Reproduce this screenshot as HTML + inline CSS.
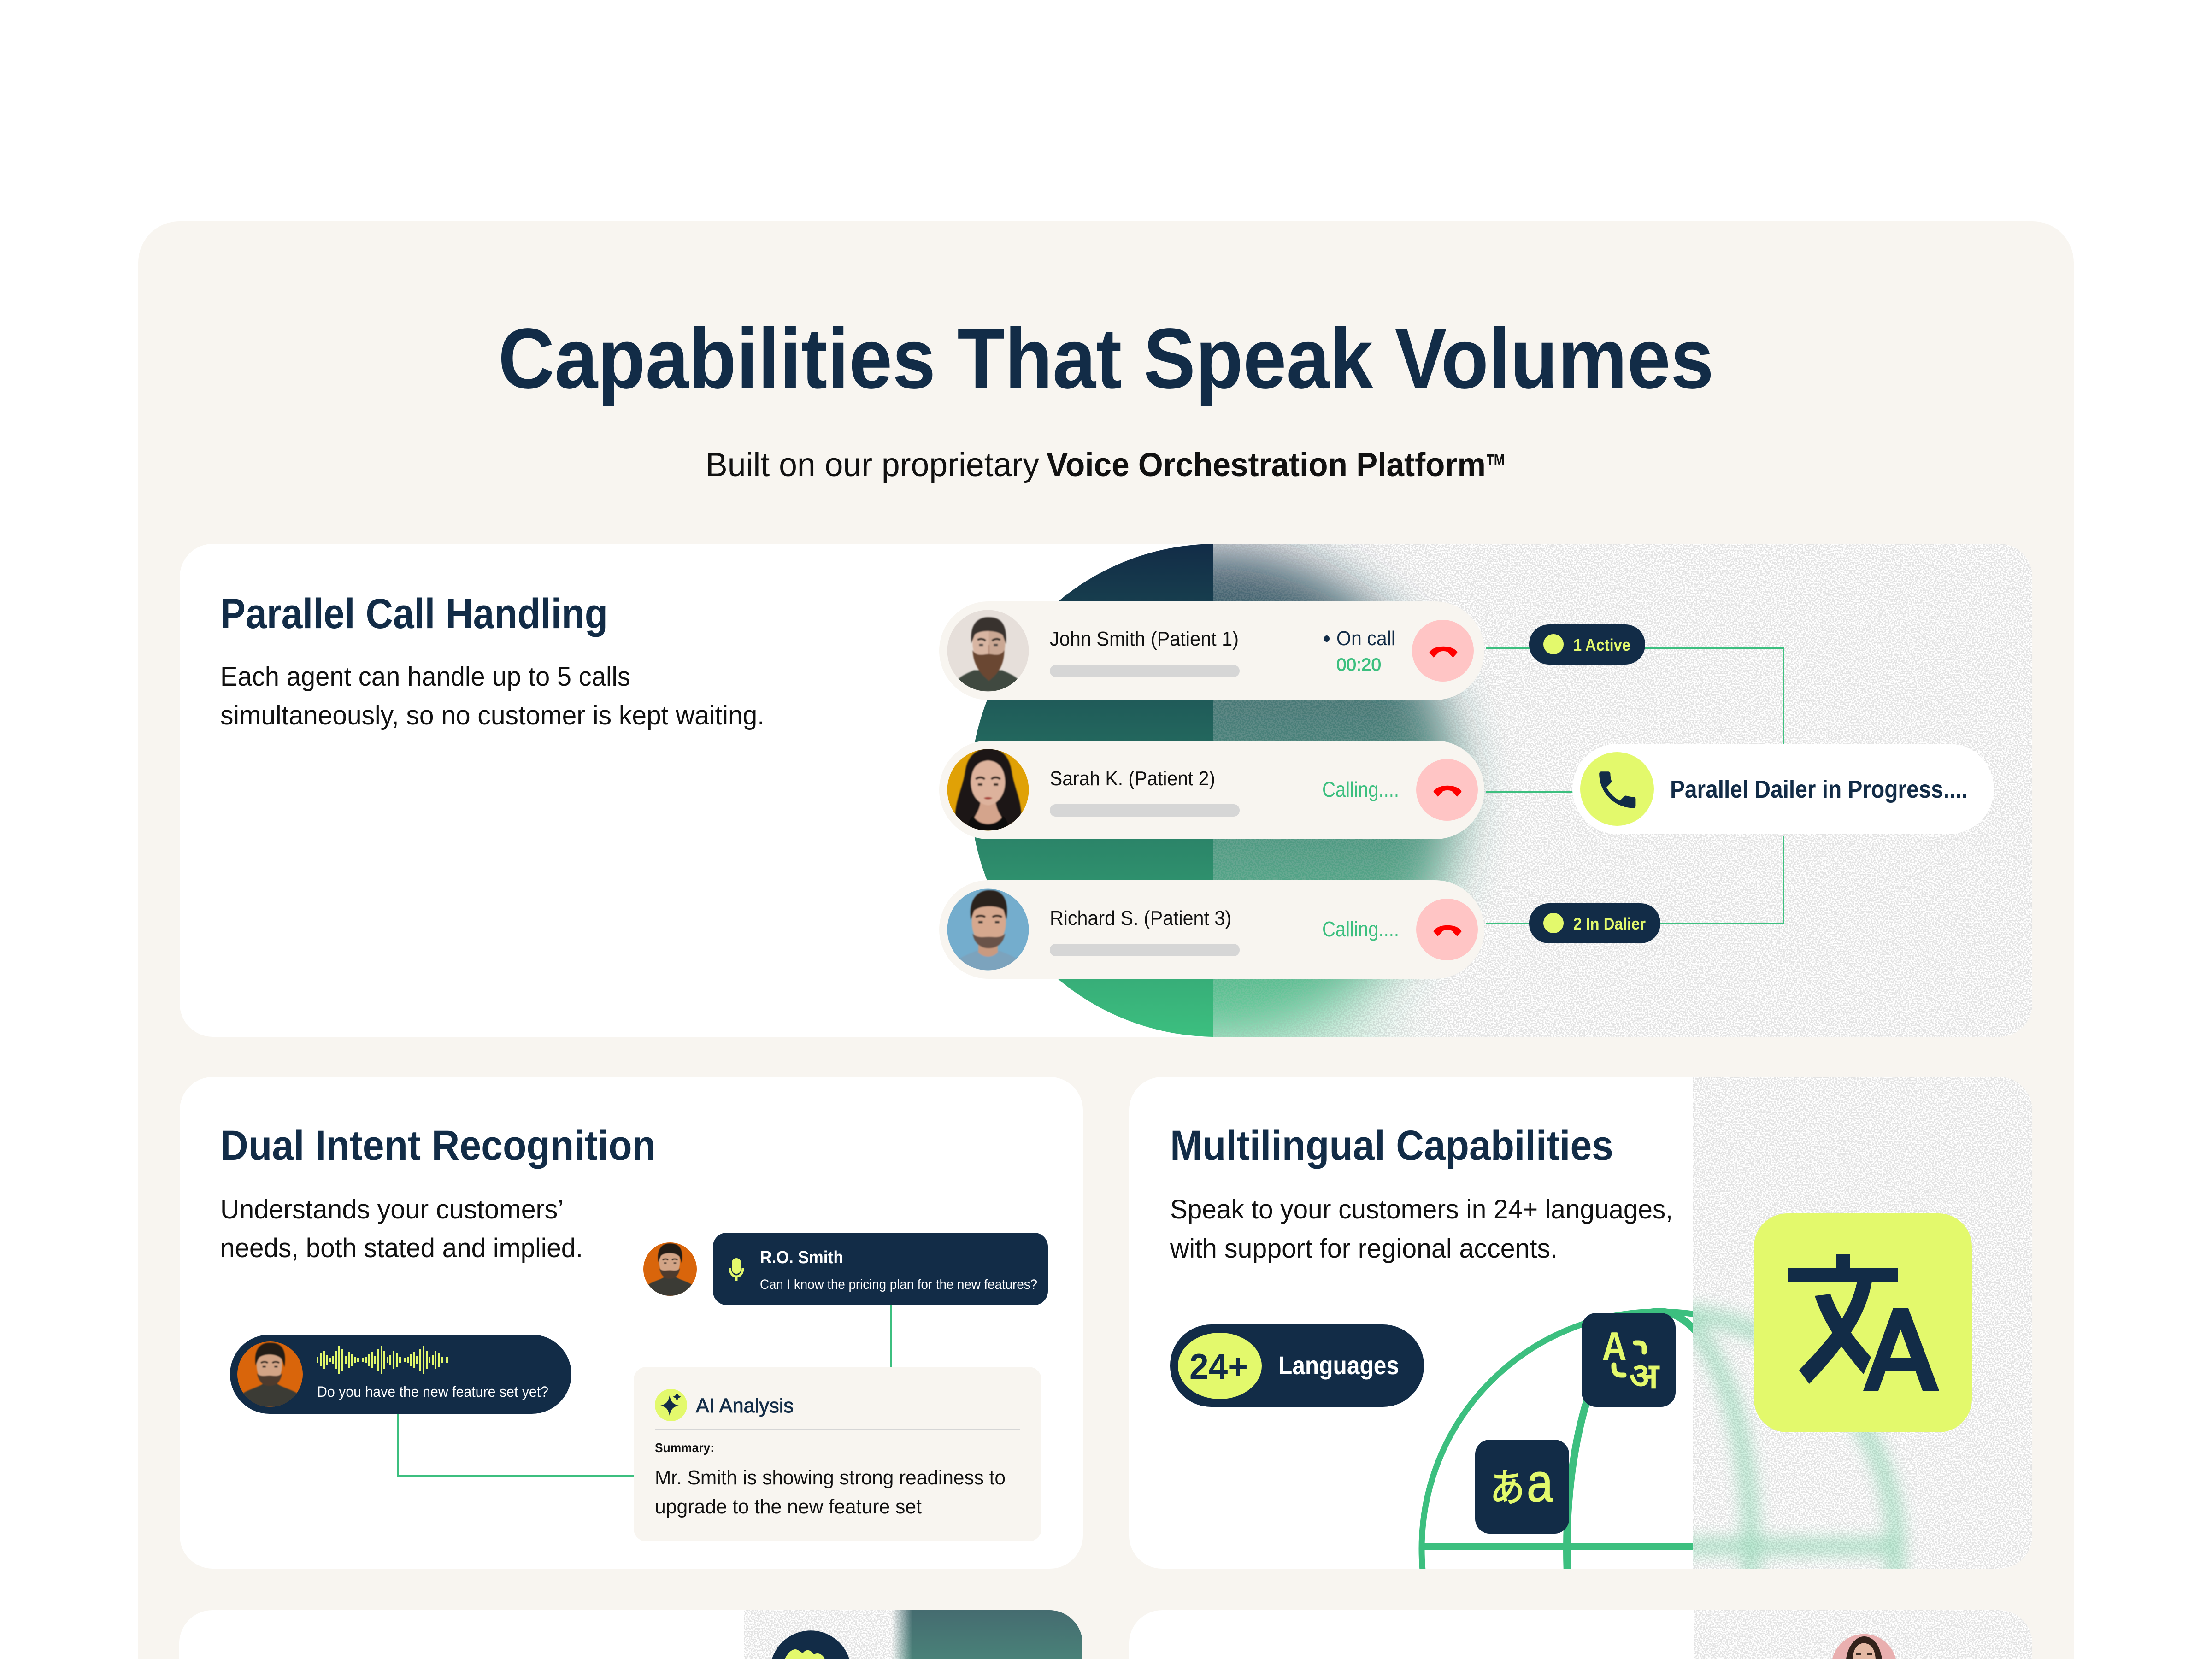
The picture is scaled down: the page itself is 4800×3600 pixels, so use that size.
<!DOCTYPE html>
<html lang="en"><head><meta charset="utf-8"><title>Capabilities That Speak Volumes</title>
<style>
html,body{margin:0;padding:0;background:#fff;width:4800px;height:3600px;overflow:hidden}
svg{display:block}
text{font-family:"Liberation Sans","Noto Sans CJK JP","DejaVu Sans",sans-serif}
.b{font-weight:700}
</style></head><body>
<svg xmlns="http://www.w3.org/2000/svg" width="4800" height="3600" viewBox="0 0 4800 3600">
<defs>
<filter id="n" x="0" y="0" width="100%" height="100%" color-interpolation-filters="sRGB">
<feTurbulence type="fractalNoise" baseFrequency="0.3" numOctaves="1" seed="7"/>
<feColorMatrix type="matrix" values="0 0 0 0 .89 0 0 0 0 .89 0 0 0 0 .89 12 0 0 0 -5.5"/>
</filter>
<filter id="bl" x="-40%" y="-40%" width="180%" height="180%"><feGaussianBlur stdDeviation="58"/></filter>
<filter id="bl2" x="-40%" y="-80%" width="180%" height="260%"><feGaussianBlur stdDeviation="70"/></filter>
<filter id="bs" x="-20%" y="-20%" width="140%" height="140%"><feGaussianBlur stdDeviation="18"/></filter>
<filter id="f" x="-20%" y="-20%" width="140%" height="140%"><feGaussianBlur stdDeviation="1.6"/></filter>
<linearGradient id="g1" gradientUnits="userSpaceOnUse" x1="0" y1="1180" x2="0" y2="2250"><stop offset="0" stop-color="#122C47"/><stop offset="1" stop-color="#3CBF7F"/></linearGradient>
<linearGradient id="g2" gradientUnits="userSpaceOnUse" x1="0" y1="3494" x2="0" y2="3620"><stop offset="0" stop-color="#456c70"/><stop offset="1" stop-color="#4a857a"/></linearGradient>
<linearGradient id="g3" gradientUnits="userSpaceOnUse" x1="1935" y1="0" x2="1980" y2="0"><stop offset="0" stop-color="#000"/><stop offset="1" stop-color="#fff"/></linearGradient>
<mask id="m3" maskUnits="userSpaceOnUse" x="1900" y="3494" width="449" height="106"><rect x="1900" y="3494" width="449" height="106" fill="url(#g3)"/></mask>
<clipPath id="c1"><rect x="390" y="1180" width="4020" height="1070" rx="72"/></clipPath>
<clipPath id="c2"><rect x="2450" y="2337" width="1960" height="1067" rx="72"/></clipPath>
<clipPath id="c3"><path d="M389 3600V3566A72 72 0 0 1 461 3494H2277A72 72 0 0 1 2349 3566V3600Z"/></clipPath>
<clipPath id="c4"><path d="M2450 3600V3566A72 72 0 0 1 2522 3494H4338A72 72 0 0 1 4410 3566V3600Z"/></clipPath>
<clipPath id="leftC"><rect x="2000" y="1180" width="632" height="1070"/></clipPath>
<clipPath id="whiteL"><rect x="2450" y="2337" width="1223" height="1067"/></clipPath>
<clipPath id="noiseR"><rect x="3673" y="2337" width="740" height="1067"/></clipPath>
<clipPath id="av"><circle cx="0" cy="0" r="100"/></clipPath>
<g id="john"><g clip-path="url(#av)"><rect x="-100" y="-100" width="200" height="200" fill="#e6dfda"/><g filter="url(#f)"><path d="M-88 100 C-85 70 -62 60 -35 48 L35 48 C62 60 85 70 88 100Z" fill="#414a40"/><ellipse cx="2" cy="-18" rx="40" ry="52" fill="#d8b5a2"/><path d="M2 -70 C30 -70 42 -50 42 -15 C42 15 30 30 2 34Z" fill="#c09a86" opacity=".55"/><path d="M-41 -18 C-46 -70 -20 -84 4 -82 C30 -82 48 -66 44 -16 L36 -38 C22 -50 -16 -52 -32 -40Z" fill="#37322f"/><path d="M-38 -2 C-36 38 -16 58 2 74 C22 58 40 38 40 -2 C30 16 14 8 2 8 C-10 8 -28 16 -38 -2Z" fill="#6a4630"/><path d="M-26 -26 C-20 -30 -12 -30 -6 -24 M10 -24 C16 -30 24 -30 30 -26" fill="none" stroke="#2c2522" stroke-width="5"/><path d="M-22 -14 h10 M14 -14 h10" stroke="#3a3a3a" stroke-width="5"/><path d="M2 -14 V8" stroke="#b9917e" stroke-width="4"/></g></g></g>
<g id="sarah"><g clip-path="url(#av)"><rect x="-100" y="-100" width="200" height="200" fill="#e0a106"/><g filter="url(#f)"><path d="M-78 100 C-90 40 -62 0 -56 -45 C-50 -90 -20 -102 2 -102 C30 -102 52 -85 58 -45 C64 0 92 40 78 100Z" fill="#1e1412"/><path d="M-46 100 C-36 62 -20 56 -18 25 L18 25 C20 56 36 62 46 100Z" fill="#d4a48c"/><path d="M-52 100 C-48 76 -42 66 -36 64 C-20 90 20 90 36 64 C42 66 48 76 52 100Z" fill="#0b0807"/><path d="M-42 -20 C-40 -55 -25 -70 0 -72 C25 -70 40 -55 42 -20 C42 14 22 36 0 38 C-22 36 -42 14 -42 -20Z" fill="#ddb29c"/><path d="M-30 -26 C-24 -32 -14 -32 -8 -26 M8 -26 C14 -32 24 -32 30 -26" fill="none" stroke="#2a1c18" stroke-width="5"/><path d="M-25 -13 h11 M14 -13 h11" stroke="#3a2a22" stroke-width="6"/><path d="M-11 20 q11 -5 22 0 q-11 7 -22 0z" fill="#a8423a"/></g></g></g>
<g id="richard"><g clip-path="url(#av)"><rect x="-100" y="-100" width="200" height="200" fill="#74adcd"/><g filter="url(#f)"><path d="M-88 100 C-85 72 -60 66 -28 52 L28 52 C60 66 85 72 88 100Z" fill="#7ba3bd"/><path d="M-24 20 H24 V56 C10 70 -10 70 -24 56Z" fill="#c99a80"/><ellipse cx="2" cy="-18" rx="42" ry="58" fill="#d6a88e"/><path d="M-42 -24 C-50 -80 -18 -98 6 -96 C36 -96 52 -74 45 -24 L38 -48 C20 -60 -18 -60 -34 -46Z" fill="#2c211c"/><path d="M-38 10 C-32 40 -12 46 2 46 C16 46 36 40 42 10 C30 22 14 18 2 18 C-10 18 -26 22 -38 10Z" fill="#6a5248"/><path d="M-30 -30 C-24 -35 -12 -35 -7 -30 M11 -30 C16 -35 28 -35 34 -30" fill="none" stroke="#2c211c" stroke-width="5"/><path d="M-24 -18 h11 M17 -18 h11" stroke="#33302e" stroke-width="5.5"/></g></g></g>
<g id="orange"><g clip-path="url(#av)"><rect x="-100" y="-100" width="200" height="200" fill="#d9650b"/><g filter="url(#f)"><path d="M-85 100 L-82 58 C-60 44 -35 40 -20 28 L20 28 C35 40 60 44 82 58 L85 100Z" fill="#3a3b36"/><ellipse cx="-2" cy="-28" rx="39" ry="58" fill="#d2a486"/><path d="M-44 -26 C-52 -84 -22 -98 2 -96 C34 -96 52 -76 44 -22 L36 -46 C20 -64 -18 -64 -34 -50Z" fill="#231a16"/><path d="M-40 -4 C-34 30 -14 36 -2 36 C12 36 32 30 37 -4 C26 10 12 4 -2 4 C-16 4 -30 10 -40 -4Z" fill="#4e3a2e"/><path d="M-28 -34 C-22 -39 -12 -39 -7 -34 M7 -34 C12 -39 22 -39 28 -34" fill="none" stroke="#231a16" stroke-width="5"/><path d="M-23 -23 h10 M13 -23 h10" stroke="#2e2723" stroke-width="5"/></g></g></g>
<g id="hang"><path d="M-30 2 C-22 -15 22 -15 30 2 L21 12 L12 3 C11 -3 -11 -3 -12 3 L-21 12Z" fill="#FF0000" stroke="#FF0000" stroke-width="1" stroke-linejoin="round"/></g>
</defs>

<rect width="4800" height="3600" fill="#fff"/>
<path d="M300 3600V570A90 90 0 0 1 390 480H4410A90 90 0 0 1 4500 570V3600Z" fill="#F8F5F0"/>

<text x="1081" y="842" font-size="186" class="b" fill="#122C47" textLength="2638" lengthAdjust="spacingAndGlyphs">Capabilities That Speak Volumes</text>
<text x="1531" y="1033" font-size="72" fill="#111" textLength="724" lengthAdjust="spacingAndGlyphs">Built on our proprietary</text>
<text x="2271" y="1033" font-size="72" class="b" fill="#111" textLength="953" lengthAdjust="spacingAndGlyphs">Voice Orchestration Platform</text>
<text x="3224" y="1038" font-size="76" class="b" fill="#111" textLength="45" lengthAdjust="spacingAndGlyphs">™</text>

<!-- Card 1 -->
<g clip-path="url(#c1)">
<rect x="390" y="1180" width="4020" height="1070" fill="#fff"/>
<rect x="2632" y="1180" width="1780" height="1070" filter="url(#n)"/>
<circle cx="2640" cy="1715" r="535" fill="url(#g1)" clip-path="url(#leftC)"/>
<svg x="2632" y="1180" width="1780" height="1070" viewBox="2632 1180 1780 1070"><circle cx="2632" cy="1725" r="530" fill="url(#g1)" opacity=".82" filter="url(#bl)"/><ellipse cx="2740" cy="2260" rx="300" ry="90" fill="#3CBF7F" opacity=".22" filter="url(#bl2)"/><rect x="2632" y="1180" width="700" height="1070" filter="url(#n)" opacity=".16"/></svg>
</g>

<text x="478" y="1363" font-size="92" class="b" fill="#122C47" textLength="841" lengthAdjust="spacingAndGlyphs">Parallel Call Handling</text>
<text x="478" y="1488" font-size="58" fill="#111" textLength="890" lengthAdjust="spacingAndGlyphs">Each agent can handle up to 5 calls</text>
<text x="478" y="1572" font-size="58" fill="#111" textLength="1181" lengthAdjust="spacingAndGlyphs">simultaneously, so no customer is kept waiting.</text>

<!-- connectors card 1 -->
<g fill="none" stroke="#3CBF7F" stroke-width="4">
<path d="M3225 1406H3320M3568 1406H3870V1616"/>
<path d="M3225 1719H3420"/>
<path d="M3870 1815V2004H3600M3320 2004H3225"/>
</g>

<!-- pills -->
<rect x="2038" y="1305" width="1183" height="214" rx="107" fill="#F8F5F0"/>
<rect x="2038" y="1607" width="1183" height="214" rx="107" fill="#F8F5F0"/>
<rect x="2038" y="1910" width="1183" height="214" rx="107" fill="#F8F5F0"/>
<use href="#john" transform="translate(2144 1412) scale(.885)"/>
<use href="#sarah" transform="translate(2144 1714) scale(.885)"/>
<use href="#richard" transform="translate(2144 2017) scale(.885)"/>

<text x="2278" y="1401" font-size="44" fill="#111" textLength="410" lengthAdjust="spacingAndGlyphs">John Smith (Patient 1)</text>
<text x="2278" y="1704" font-size="44" fill="#111" textLength="359" lengthAdjust="spacingAndGlyphs">Sarah K. (Patient 2)</text>
<text x="2278" y="2007" font-size="44" fill="#111" textLength="394" lengthAdjust="spacingAndGlyphs">Richard S. (Patient 3)</text>
<rect x="2278" y="1443" width="412" height="26" rx="13" fill="#D6D6D6"/>
<rect x="2278" y="1745" width="412" height="27" rx="13" fill="#D6D6D6"/>
<rect x="2278" y="2048" width="412" height="27" rx="13" fill="#D6D6D6"/>

<ellipse cx="2879" cy="1386" rx="6" ry="7" fill="#122C47"/>
<text x="2900" y="1400" font-size="44" fill="#122C47" textLength="128" lengthAdjust="spacingAndGlyphs">On call</text>
<text x="2900" y="1455" font-size="38" fill="#3CBF7F" stroke="#3CBF7F" stroke-width="1" textLength="97" lengthAdjust="spacingAndGlyphs">00:20</text>
<text x="2869" y="1729" font-size="46" fill="#3CBF7F" textLength="167" lengthAdjust="spacingAndGlyphs">Calling....</text>
<text x="2869" y="2032" font-size="46" fill="#3CBF7F" textLength="167" lengthAdjust="spacingAndGlyphs">Calling....</text>

<circle cx="3131" cy="1412" r="67" fill="#FFC5C5"/>
<circle cx="3140" cy="1714" r="67" fill="#FFC5C5"/>
<circle cx="3140" cy="2017" r="67" fill="#FFC5C5"/>
<use href="#hang" transform="translate(3132 1414)"/>
<use href="#hang" transform="translate(3141 1716)"/>
<use href="#hang" transform="translate(3141 2019)"/>

<rect x="3318" y="1355" width="252" height="87" rx="43" fill="#122C47"/>
<circle cx="3371" cy="1398" r="22" fill="#E3F96C"/>
<text x="3414" y="1412" font-size="36" class="b" fill="#E3F96C" textLength="124" lengthAdjust="spacingAndGlyphs">1 Active</text>
<rect x="3318" y="1960" width="285" height="87" rx="43" fill="#122C47"/>
<circle cx="3371" cy="2003" r="22" fill="#E3F96C"/>
<text x="3414" y="2017" font-size="36" class="b" fill="#E3F96C" textLength="157" lengthAdjust="spacingAndGlyphs">2 In Dalier</text>

<rect x="3412" y="1614" width="915" height="196" rx="98" fill="#fff"/>
<circle cx="3509" cy="1712" r="80" fill="#E3F96C"/>
<path transform="translate(3457 1661) scale(4.4)" fill="#122C47" d="M6.62 10.79c1.44 2.83 3.76 5.14 6.59 6.59l2.2-2.2c.27-.27.67-.36 1.02-.24 1.12.37 2.33.57 3.57.57.55 0 1 .45 1 1V20c0 .55-.45 1-1 1-9.39 0-17-7.61-17-17 0-.55.45-1 1-1h3.5c.55 0 1 .45 1 1 0 1.25.2 2.45.57 3.57.11.35.03.74-.25 1.02l-2.2 2.2z"/>
<text x="3624" y="1731" font-size="54" class="b" fill="#122C47" textLength="646" lengthAdjust="spacingAndGlyphs">Parallel Dailer in Progress....</text>

<!-- Card 2 Dual intent -->
<rect x="390" y="2337" width="1960" height="1067" rx="72" fill="#fff"/>
<text x="478" y="2517" font-size="92" class="b" fill="#122C47" textLength="945" lengthAdjust="spacingAndGlyphs">Dual Intent Recognition</text>
<text x="478" y="2644" font-size="58" fill="#111" textLength="745" lengthAdjust="spacingAndGlyphs">Understands your customers’</text>
<text x="478" y="2728" font-size="58" fill="#111" textLength="787" lengthAdjust="spacingAndGlyphs">needs, both stated and implied.</text>

<use href="#orange" transform="translate(1454 2754) scale(.58)"/>
<rect x="1547" y="2675" width="727" height="157" rx="30" fill="#122C47"/>
<rect x="1588" y="2730" width="20" height="34" rx="10" fill="#E3F96C"/>
<path d="M1584 2752 C1584 2776 1612 2776 1612 2752 M1598 2770V2780" fill="none" stroke="#E3F96C" stroke-width="5"/>
<text x="1649" y="2741" font-size="38" class="b" fill="#fff" textLength="181" lengthAdjust="spacingAndGlyphs">R.O. Smith</text>
<text x="1649" y="2797" font-size="30" fill="#fff" textLength="602" lengthAdjust="spacingAndGlyphs">Can I know the pricing plan for the new features?</text>

<path d="M1934 2832V2968" stroke="#3CBF7F" stroke-width="4" fill="none"/>
<path d="M864 3068V3203H1377" stroke="#3CBF7F" stroke-width="4" fill="none"/>

<rect x="1375" y="2966" width="885" height="379" rx="28" fill="#F8F5F0"/>
<circle cx="1456" cy="3049" r="35" fill="#E3F96C"/>
<path d="M1453 3028 C1456 3042 1460 3047 1473 3050 C1460 3053 1456 3058 1453 3072 C1450 3058 1446 3053 1433 3050 C1446 3047 1450 3042 1453 3028Z" fill="#122C47"/>
<path d="M1469 3022 l3 6 6 3 -6 3 -3 6 -3 -6 -6 -3 6 -3z" fill="#122C47"/>
<text x="1510" y="3065" font-size="44" fill="#122C47" stroke="#122C47" stroke-width="1" textLength="212" lengthAdjust="spacingAndGlyphs">AI Analysis</text>
<rect x="1421" y="3101" width="793" height="3" fill="#D6D6D6"/>
<text x="1421" y="3151" font-size="28" class="b" fill="#111" textLength="129" lengthAdjust="spacingAndGlyphs">Summary:</text>
<text x="1421" y="3221" font-size="44" fill="#111" textLength="761" lengthAdjust="spacingAndGlyphs">Mr. Smith is showing strong readiness to</text>
<text x="1421" y="3284" font-size="44" fill="#111" textLength="579" lengthAdjust="spacingAndGlyphs">upgrade to the new feature set</text>

<rect x="499" y="2896" width="741" height="172" rx="86" fill="#122C47"/>
<use href="#orange" transform="translate(586 2982) scale(.71)"/>
<g fill="#E3F96C">
<rect x="687" y="2945" width="4" height="12"/><rect x="694" y="2937" width="4" height="28"/><rect x="701" y="2931" width="4" height="40"/><rect x="708" y="2941" width="4" height="20"/><rect x="714" y="2946" width="4" height="10"/><rect x="721" y="2943" width="4" height="16"/><rect x="728" y="2931" width="4" height="40"/><rect x="734" y="2921" width="4" height="60"/><rect x="741" y="2927" width="4" height="48"/><rect x="748" y="2942" width="4" height="18"/><rect x="755" y="2934" width="4" height="34"/><rect x="761" y="2938" width="4" height="26"/><rect x="768" y="2945" width="4" height="12"/><rect x="775" y="2947" width="4" height="8"/>
<rect x="785" y="2947" width="4" height="8"/><rect x="792" y="2945" width="4" height="12"/><rect x="799" y="2938" width="4" height="26"/><rect x="805" y="2934" width="4" height="34"/><rect x="812" y="2942" width="4" height="18"/><rect x="819" y="2927" width="4" height="48"/><rect x="826" y="2921" width="4" height="60"/><rect x="832" y="2931" width="4" height="40"/><rect x="839" y="2945" width="4" height="12"/><rect x="845" y="2941" width="4" height="20"/><rect x="852" y="2931" width="4" height="40"/><rect x="859" y="2936" width="4" height="30"/><rect x="866" y="2945" width="4" height="12"/>
<rect x="877" y="2947" width="4" height="8"/><rect x="883" y="2945" width="4" height="12"/><rect x="890" y="2938" width="4" height="26"/><rect x="897" y="2934" width="4" height="34"/><rect x="903" y="2942" width="4" height="18"/><rect x="910" y="2927" width="4" height="48"/><rect x="917" y="2921" width="4" height="60"/><rect x="924" y="2931" width="4" height="40"/><rect x="930" y="2945" width="4" height="12"/><rect x="937" y="2941" width="4" height="20"/><rect x="943" y="2931" width="4" height="40"/><rect x="950" y="2936" width="4" height="30"/><rect x="957" y="2945" width="4" height="12"/><rect x="968" y="2945" width="4" height="12"/>
</g>
<text x="688" y="3031" font-size="32" fill="#fff" textLength="502" lengthAdjust="spacingAndGlyphs">Do you have the new feature set yet?</text>

<!-- Card 3 Multilingual -->
<g clip-path="url(#c2)">
<rect x="2450" y="2337" width="1960" height="1067" fill="#fff"/>
<rect x="3673" y="2337" width="737" height="1067" filter="url(#n)"/>
<g clip-path="url(#whiteL)" fill="none" stroke="#3CBF7F">
<circle cx="3600" cy="3361" r="515" stroke-width="13"/>
<ellipse cx="3600" cy="3361" rx="200" ry="515" stroke-width="16"/>
<path d="M3085 3356H3700" stroke-width="16"/>
</g>
<g clip-path="url(#noiseR)"><g fill="none" stroke="#3CBF7F" opacity=".42" filter="url(#bs)">
<circle cx="3600" cy="3361" r="515" stroke-width="30"/>
<ellipse cx="3600" cy="3361" rx="200" ry="515" stroke-width="30"/>
<path d="M3600 3356H4115" stroke-width="30"/>
</g></g>
</g>
<text x="2539" y="2517" font-size="92" class="b" fill="#122C47" textLength="962" lengthAdjust="spacingAndGlyphs">Multilingual Capabilities</text>
<text x="2539" y="2644" font-size="58" fill="#111" textLength="1091" lengthAdjust="spacingAndGlyphs">Speak to your customers in 24+ languages,</text>
<text x="2539" y="2729" font-size="58" fill="#111" textLength="841" lengthAdjust="spacingAndGlyphs">with support for regional accents.</text>

<rect x="2539" y="2874" width="551" height="179" rx="89" fill="#122C47"/>
<ellipse cx="2647" cy="2964" rx="91" ry="72" fill="#E3F96C"/>
<text x="2581" y="2992" font-size="78" class="b" fill="#122C47" textLength="127" lengthAdjust="spacingAndGlyphs">24+</text>
<text x="2774" y="2982" font-size="56" class="b" fill="#fff" textLength="262" lengthAdjust="spacingAndGlyphs">Languages</text>

<rect x="3201" y="3124" width="204" height="204" rx="32" fill="#122C47"/>
<rect x="3432" y="2849" width="204" height="204" rx="32" fill="#122C47"/>
<text x="3233" y="3258" font-size="84" fill="#E3F96C" stroke="#E3F96C" stroke-width="2" textLength="76" lengthAdjust="spacingAndGlyphs">あ</text>
<text x="3313" y="3258" font-size="118" fill="#E3F96C" stroke="#E3F96C" stroke-width="2" textLength="57" lengthAdjust="spacingAndGlyphs">a</text>
<text x="3476" y="2952" font-size="88" class="b" fill="#E3F96C" textLength="54" lengthAdjust="spacingAndGlyphs">A</text>
<text x="3535" y="3012" font-size="76" class="b" fill="#E3F96C" textLength="64" lengthAdjust="spacingAndGlyphs">अ</text>
<path d="M3549 2914 H3556 Q3568 2914 3568 2926 V2934 M3502 2962 V2966 Q3502 2984 3518 2984 H3524" fill="none" stroke="#E3F96C" stroke-width="11" stroke-linecap="round"/>

<rect x="3806" y="2633" width="473" height="475" rx="72" fill="#E3F96C"/>
<g fill="#122C47">
<rect x="3879" y="2752" width="239" height="29"/>
<rect x="3985" y="2721" width="29" height="33"/>
<path d="M4030 2781 L4062 2781 C4050 2850 4010 2915 3926 3003 L3904 2973 C3975 2900 4015 2850 4030 2781Z"/>
<path d="M3938 2812 L3972 2808 C3985 2845 4010 2890 4060 2945 L4044 2982 C3990 2920 3955 2865 3938 2812Z"/>
<polygon points="4043,3018 4076,3018 4141,2839 4108,2839"/>
<polygon points="4208,3018 4172,3018 4108,2839 4141,2839"/>
<rect x="4085" y="2947" width="80" height="28"/>
</g>

<!-- Bottom left card -->
<g clip-path="url(#c3)">
<rect x="389" y="3494" width="1960" height="106" fill="#fff"/>
<rect x="1615" y="3494" width="734" height="106" filter="url(#n)"/>
<rect x="1900" y="3494" width="449" height="106" fill="url(#g2)" mask="url(#m3)"/>
<path d="M1675 3600A88 88 0 0 1 1843 3600Z" fill="#122C47"/>
<path d="M1703 3600C1708 3590 1716 3579 1726 3579C1734 3579 1740 3590 1744 3585C1750 3578 1760 3580 1766 3590C1776 3585 1785 3590 1790 3600Z" fill="#E3F96C"/>
</g>

<!-- Bottom right card -->
<g clip-path="url(#c4)">
<rect x="2450" y="3494" width="1960" height="106" fill="#fff"/>
<rect x="3675" y="3494" width="735" height="106" filter="url(#n)"/>
<path d="M3976 3600A71 71 0 0 1 4114 3600Z" fill="#E9AFAF"/>
<path d="M4006 3600C4010 3570 4028 3551 4045 3551C4066 3551 4080 3572 4084 3600L4068 3600L4060 3575C4050 3562 4038 3562 4030 3575L4020 3600Z" fill="#33221b"/>
<path d="M4020 3600C4022 3575 4032 3566 4045 3566C4058 3566 4068 3575 4070 3600Z" fill="#e4b9a4"/>
<path d="M4028 3590h10M4052 3590h10" stroke="#3a2a22" stroke-width="4"/>
</g>
</svg>
</body></html>
